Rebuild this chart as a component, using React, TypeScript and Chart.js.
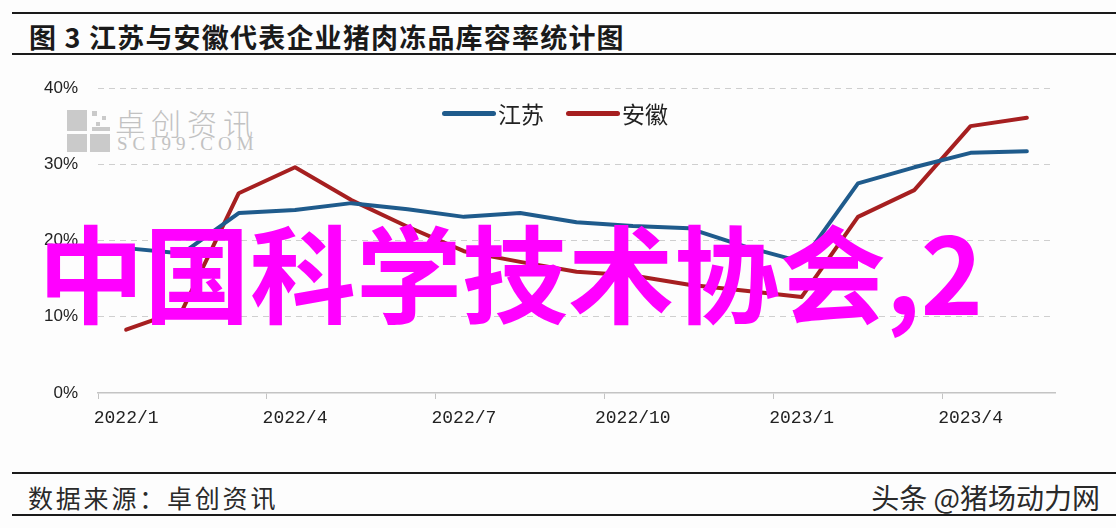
import React, { useEffect, useRef } from 'react';
import { Chart, registerables } from 'chart.js';

Chart.register(...registerables);

const months = [
  '2022/1', '2022/2', '2022/3', '2022/4', '2022/5', '2022/6', '2022/7', '2022/8', '2022/9',
  '2022/10', '2022/11', '2022/12', '2023/1', '2023/2', '2023/3', '2023/4', '2023/5',
];
const seriesNames = ['江苏', '安徽'];
const jiangsu = [19.0, 18.3, 23.6, 24.0, 24.9, 24.1, 23.1, 23.6, 22.4, 21.9, 21.6, 19.2, 17.2, 27.5, 29.6, 31.5, 31.7];
const anhui = [8.3, 10.9, 26.2, 29.6, 25.3, 21.8, 18.6, 17.2, 15.9, 15.4, 14.2, 13.4, 12.6, 23.1, 26.6, 35.0, 36.1];
const yMin = 0;
const yMax = 40;
const yStep = 10;
const labelEvery = 3;

const titleText = '图 3 江苏与安徽代表企业猪肉冻品库容率统计图';
const sourceText = '数据来源：卓创资讯';
const creditText = '头条 @猪场动力网';
const overlayText = '中国科学技术协会,2';

const lineColors = ['#1f5b8c', '#a61f20'];

export default function App() {
  const canvasRef = useRef<HTMLCanvasElement | null>(null);

  useEffect(() => {
    const canvas = canvasRef.current;
    if (!canvas) return;
    const chart = new Chart(canvas, {
      type: 'line',
      data: {
        labels: months,
        datasets: [
          {
            label: seriesNames[0],
            data: jiangsu,
            borderColor: lineColors[0],
            backgroundColor: lineColors[0],
            borderWidth: 4,
            pointRadius: 0,
            tension: 0,
            borderCapStyle: 'round',
            borderJoinStyle: 'round',
          },
          {
            label: seriesNames[1],
            data: anhui,
            borderColor: lineColors[1],
            backgroundColor: lineColors[1],
            borderWidth: 4,
            pointRadius: 0,
            tension: 0,
            borderCapStyle: 'round',
            borderJoinStyle: 'round',
          },
        ],
      },
      options: {
        responsive: false,
        animation: false,
        events: [],
        layout: { padding: { top: 18, right: 25, left: 0, bottom: 0 } },
        plugins: {
          legend: { display: false },
          tooltip: { enabled: false },
        },
        scales: {
          x: {
            type: 'category',
            offset: true,
            grid: {
              display: true,
              offset: true,
              drawOnChartArea: false,
              drawTicks: true,
              tickLength: 6,
              color: (ctx: any) => (ctx.index % labelEvery === 0 && ctx.index < months.length ? '#c4c4c4' : 'rgba(0,0,0,0)'),
              lineWidth: 1,
            },
            border: { display: true, color: '#c4c4c4', width: 1.5 },
            ticks: {
              autoSkip: false,
              maxRotation: 0,
              minRotation: 0,
              padding: 8,
              color: '#222',
              font: { family: '"Liberation Mono", "DejaVu Sans Mono", monospace', size: 18 },
              callback: (_v: any, i: number) => (i % labelEvery === 0 ? months[i] : ''),
            },
            afterFit: (scale: any) => {
              scale.height = 47;
              scale.paddingLeft = 0;
              scale.paddingRight = 0;
            },
          },
          y: {
            min: yMin,
            max: yMax,
            grid: {
              display: true,
              drawTicks: false,
              color: (ctx: any) => (ctx.tick && ctx.tick.value === 0 ? 'rgba(0,0,0,0)' : '#cfcfcf'),
              lineWidth: 1,
            },
            border: { display: false, dash: [6, 5] },
            ticks: {
              stepSize: yStep,
              padding: 20,
              color: '#222',
              font: { family: '"Liberation Sans", Arial, sans-serif', size: 17 },
              callback: (v: any) => `${v}%`,
            },
            afterFit: (scale: any) => {
              scale.width = 98;
              scale.paddingTop = 0;
              scale.paddingBottom = 0;
            },
          },
        },
      },
    });
    return () => chart.destroy();
  }, []);

  const rule = (top: number): React.CSSProperties => ({
    position: 'absolute',
    left: 12,
    right: 0,
    top,
    height: 2,
    background: '#1a1a1a',
  });

  const cjk = '"Noto Sans CJK SC", "Noto Sans", sans-serif';

  return (
    <div
      style={{
        position: 'absolute',
        left: 0,
        top: 0,
        width: 1116,
        height: 528,
        background: '#fdfdfd',
        overflow: 'hidden',
      }}
    >
      <div style={rule(12)} />
      <div
        style={{
          position: 'absolute',
          left: 29,
          top: 20,
          fontFamily: cjk,
          fontWeight: 700,
          fontSize: 27,
          lineHeight: '34px',
          color: '#1a1a1a',
          whiteSpace: 'nowrap',
          letterSpacing: 1.2,
        }}
      >
        {titleText}
      </div>
      <div style={rule(53)} />

      {/* watermark */}
      <div style={{ position: 'absolute', left: 67, top: 110, width: 20, height: 21, background: '#cacaca' }} />
      <div style={{ position: 'absolute', left: 67, top: 134, width: 20, height: 18, background: '#cacaca' }} />
      <div style={{ position: 'absolute', left: 90, top: 134, width: 20, height: 18, background: '#cacaca' }} />
      <div style={{ position: 'absolute', left: 92, top: 111, width: 5, height: 5, background: '#cacaca' }} />
      <div style={{ position: 'absolute', left: 102, top: 116, width: 4, height: 4, background: '#cacaca' }} />
      <div style={{ position: 'absolute', left: 96, top: 122, width: 4, height: 4, background: '#cacaca' }} />
      <div style={{ position: 'absolute', left: 92, top: 127, width: 18, height: 4, background: '#cacaca' }} />
      <div
        style={{
          position: 'absolute',
          left: 115,
          top: 104,
          fontFamily: cjk,
          fontWeight: 300,
          fontSize: 30,
          lineHeight: '36px',
          color: '#c2c2c2',
          letterSpacing: 6,
          whiteSpace: 'nowrap',
        }}
      >
        卓创资讯
      </div>
      <div
        style={{
          position: 'absolute',
          left: 117,
          top: 134,
          fontFamily: '"Liberation Serif", serif',
          fontSize: 19,
          lineHeight: '20px',
          color: '#c2c2c2',
          letterSpacing: 5,
          whiteSpace: 'nowrap',
        }}
      >
        SCI99.COM
      </div>

      <canvas
        ref={canvasRef}
        width={1080}
        height={370}
        style={{ position: 'absolute', left: 0, top: 70, width: 1080, height: 370 }}
      />

      {/* legend */}
      <div
        style={{
          position: 'absolute',
          left: 442,
          top: 99,
          display: 'flex',
          alignItems: 'center',
          fontFamily: cjk,
          fontSize: 23,
          lineHeight: '28px',
          color: '#222',
          whiteSpace: 'nowrap',
        }}
      >
        {seriesNames.map((name, i) => (
          <div key={name} style={{ display: 'flex', alignItems: 'center', marginRight: i === 0 ? 22 : 0 }}>
            <div style={{ width: 54, height: 5, borderRadius: 3, background: lineColors[i], marginRight: 2 }} />
            <span>{name}</span>
          </div>
        ))}
      </div>

      {/* footer */}
      <div style={rule(472)} />
      <div
        style={{
          position: 'absolute',
          left: 28,
          top: 481,
          fontFamily: cjk,
          fontSize: 25,
          lineHeight: '32px',
          color: '#2a2a2a',
          letterSpacing: 2.8,
          whiteSpace: 'nowrap',
        }}
      >
        {sourceText}
      </div>
      <div
        style={{
          position: 'absolute',
          right: 16,
          top: 481,
          fontFamily: cjk,
          fontSize: 28,
          lineHeight: '32px',
          color: '#2a2a2a',
          whiteSpace: 'nowrap',
        }}
      >
        {creditText}
      </div>
      <div style={rule(514)} />

      {/* magenta overlay text */}
      <div
        style={{
          position: 'absolute',
          left: 38,
          top: 216,
          fontFamily: cjk,
          fontWeight: 700,
          fontSize: 106,
          lineHeight: '107px',
          color: '#ff00ff',
          whiteSpace: 'nowrap',
          zIndex: 5,
        }}
      >
        {overlayText}
      </div>
    </div>
  );
}
